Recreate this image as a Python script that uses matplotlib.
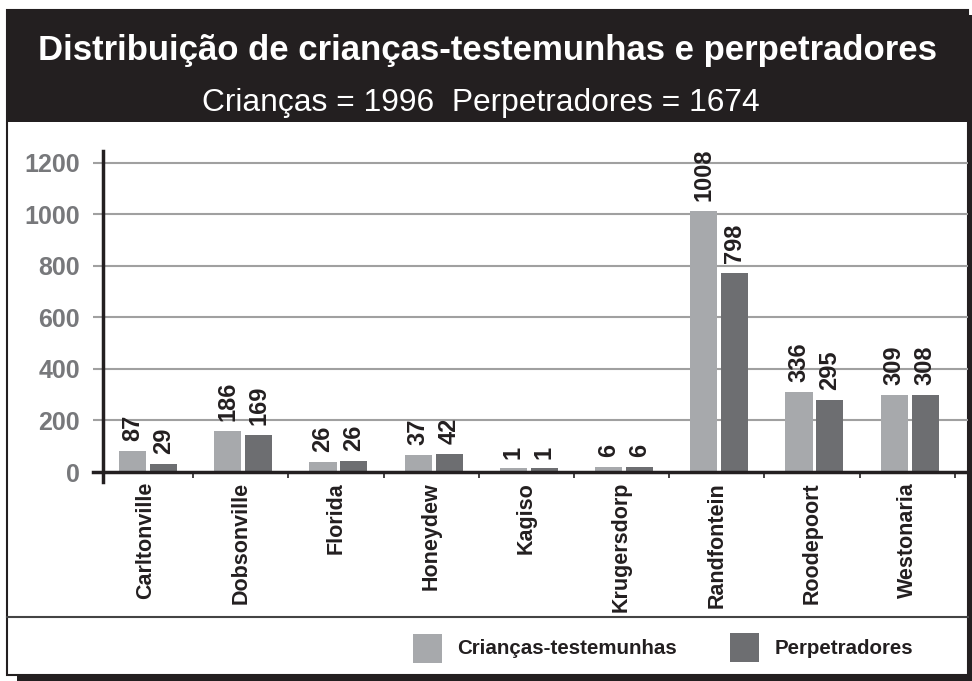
import matplotlib.pyplot as plt
from matplotlib.patches import Rectangle
from matplotlib.lines import Line2D
import numpy as np

plt.rcParams["figure.dpi"] = 100
plt.rcParams["font.family"] = ["Liberation Sans", "DejaVu Sans"]

towns = ["Carltonville", "Dobsonville", "Florida", "Honeydew", "Kagiso",
         "Krugersdorp", "Randfontein", "Roodepoort", "Westonaria"]
# bar heights as drawn in the picture (they do not follow the printed numbers exactly)
kids_height = [82, 159, 39, 66, 14, 19, 1013, 311, 299]
perp_height = [32, 143, 43, 70, 14, 19, 773, 280, 299]
# printed values
kids_labels = ["87", "186", "26", "37", "1", "6", "1008", "336", "309"]
perp_labels = ["29", "169", "26", "42", "1", "6", "798", "295", "308"]
yticks = [0, 200, 400, 600, 800, 1000, 1200]

title = "Distribuição de crianças-testemunhas e perpetradores"
subtitle = "Crianças = 1996  Perpetradores = 1674"
legend_names = ["Crianças-testemunhas", "Perpetradores"]

light = "#a7a9ac"
dark = "#6d6e71"
ink = "#231f20"

W, H = 972, 681
fig = plt.figure(figsize=(W / 100, H / 100), dpi=100)


def fx(px):
    return px / W


def fy(py):
    return 1 - py / H


def box(x0, y0, x1, y1, **kw):
    r = Rectangle((fx(x0), fy(y1)), fx(x1) - fx(x0), fy(y0) - fy(y1),
                  transform=fig.transFigure, **kw)
    fig.add_artist(r)


# frame with drop shadow, title band, legend separator
box(17, 15, 972, 681, facecolor=ink, edgecolor="none", zorder=0)
box(7, 10, 968, 675, facecolor="white", edgecolor=ink, lw=1.5, zorder=0.5)
box(7, 10, 968, 122, facecolor=ink, edgecolor="none", zorder=0.6)
fig.add_artist(Line2D([fx(7), fx(968)], [fy(617), fy(617)], color="#444444",
                      lw=1.5, transform=fig.transFigure, zorder=0.7))

fig.text(fx(487.5), fy(60), title, ha="center", va="baseline", color="white",
         fontsize=25, fontweight="bold", zorder=2)
fig.text(fx(480.5), fy(111), subtitle, ha="center", va="baseline", color="white",
         fontsize=22.9, zorder=2)

# chart
ax = fig.add_axes([fx(93), fy(472), (968 - 93) / W, (472 - 140) / H])
ax.set_zorder(1)
ax.patch.set_visible(False)
for s in ax.spines.values():
    s.set_visible(False)
ax.set_xlim(-0.5525, 8.6387)
ax.set_ylim(0, 1289)

for t in yticks[1:]:
    ax.axhline(t, color="#a0a0a0", lw=1.5, zorder=1)
ax.axhline(0, color=ink, lw=2.5, zorder=4, clip_on=False)
ax.plot([-0.4475, -0.4475], [-39, 1247], color=ink, lw=2.5, zorder=4,
        clip_on=False)
ax.vlines(np.arange(len(towns)) + 0.5, -25, 0, color=ink, lw=1.2,
          clip_on=False, zorder=4)

x = np.arange(len(towns))
ax.bar(x - 0.137, kids_height, 0.285, color=light, zorder=3)
ax.bar(x + 0.188, perp_height, 0.285, color=dark, zorder=3)

for xi, h, lab in zip(x - 0.137, kids_height, kids_labels):
    ax.annotate(lab, (xi, h), xytext=(0, 7), textcoords="offset points",
                rotation=90, ha="center", va="bottom", fontsize=17,
                fontweight="bold", color=ink)
for xi, h, lab in zip(x + 0.188, perp_height, perp_labels):
    ax.annotate(lab, (xi, h), xytext=(0, 7), textcoords="offset points",
                rotation=90, ha="center", va="bottom", fontsize=17,
                fontweight="bold", color=ink)

ax.set_yticks(yticks)
ax.set_yticklabels([str(t) for t in yticks], fontsize=18, fontweight="bold",
                   color="#77787b")
ax.tick_params(axis="y", length=0, pad=9.4)
ax.set_xticks(x)
ax.set_xticklabels(towns, rotation=90, fontsize=15.5, fontweight="bold",
                   color=ink)
ax.tick_params(axis="x", length=0, pad=7.2)

# legend
box(413, 634, 442, 663, facecolor=light, edgecolor="none", zorder=1)
box(730, 633, 759, 662, facecolor=dark, edgecolor="none", zorder=1)
fig.text(fx(457), fy(654), legend_names[0], ha="left", va="baseline",
         fontsize=14.8, fontweight="bold", color=ink)
fig.text(fx(775), fy(654), legend_names[1], ha="left", va="baseline",
         fontsize=14.8, fontweight="bold", color=ink)

fig.savefig("out.png", dpi=100)
